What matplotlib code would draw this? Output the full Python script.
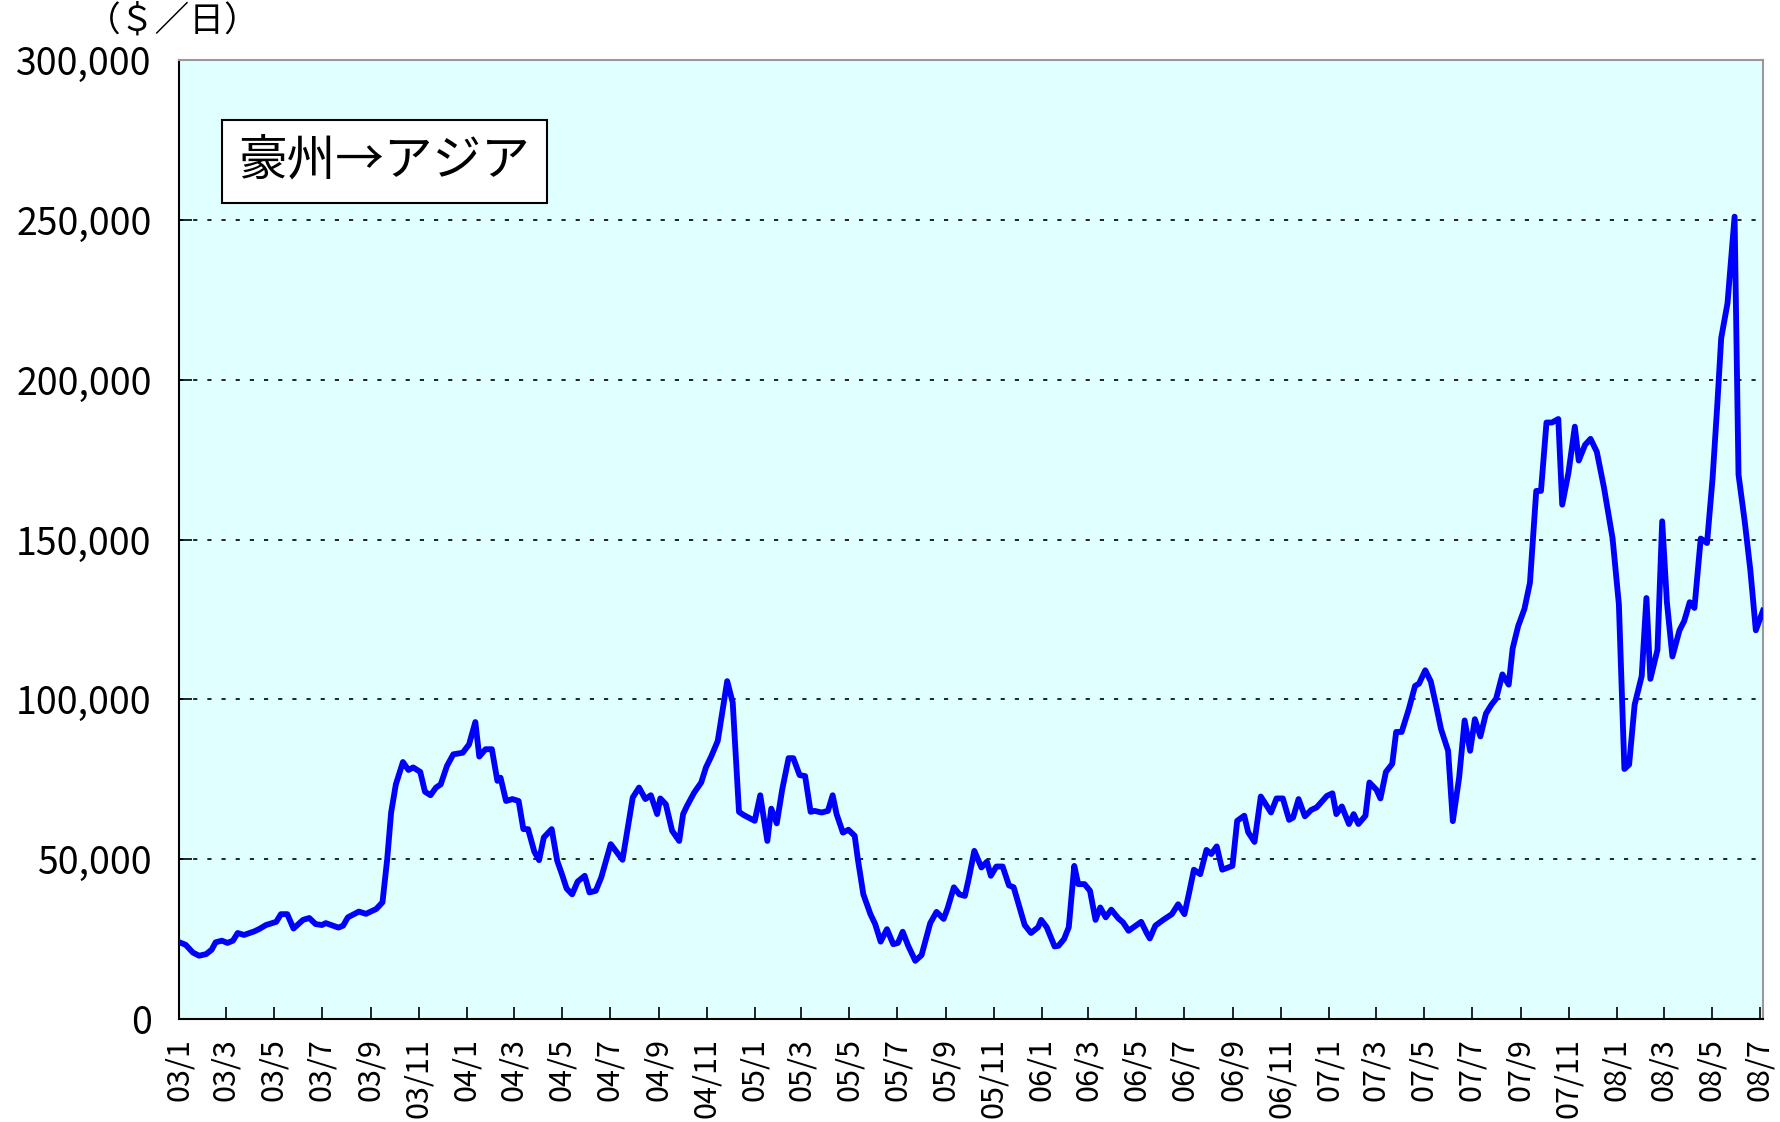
import numpy as np
import pandas as pd
import matplotlib
matplotlib.use("Agg")
import matplotlib.pyplot as plt
import matplotlib.dates as mdates
from matplotlib.ticker import FuncFormatter, MultipleLocator

plt.rcParams['font.family'] = ['Noto Sans CJK JP', 'DejaVu Sans']

# 週次の用船料（豪州→アジア）、2003/1/1 からの経過日数と千ドル/日
start = pd.Timestamp('2003-01-01')
days = [0, 8, 17, 25, 34, 41, 46, 54, 61, 68, 74, 82, 95, 101, 110, 123, 129, 137, 145, 157,
        165, 173, 181, 186, 202, 208, 214, 228, 237, 250, 258, 264, 269, 275, 284, 291, 297, 306, 312, 319,
        326, 332, 340, 348, 360, 368, 376, 381, 389, 397, 404, 408, 415, 423, 431, 437, 443, 451, 457, 463,
        473, 480, 486, 492, 499, 506, 515, 521, 529, 536, 548, 563, 570, 576, 584, 592, 599, 607, 611, 618,
        626, 635, 640, 645, 654, 663, 669, 676, 684, 696, 703, 711, 717, 731, 738, 747, 752, 759, 766, 774,
        780, 788, 795, 802, 807, 816, 824, 830, 835, 843, 850, 858, 862, 869, 878, 884, 891, 899, 907, 913,
        919, 926, 935, 943, 954, 962, 971, 976, 984, 991, 998, 1003, 1010, 1019, 1026, 1031, 1038, 1046, 1054, 1060,
        1074, 1082, 1091, 1095, 1102, 1112, 1117, 1124, 1130, 1137, 1142, 1150, 1157, 1164, 1170, 1177, 1184, 1193, 1199, 1206,
        1222, 1229, 1233, 1240, 1250, 1261, 1269, 1277, 1283, 1289, 1297, 1305, 1311, 1318, 1325, 1338, 1344, 1353, 1358, 1366,
        1374, 1387, 1394, 1402, 1410, 1415, 1422, 1430, 1438, 1445, 1458, 1465, 1470, 1477, 1486, 1492, 1498, 1507, 1512, 1521,
        1526, 1533, 1541, 1546, 1553, 1562, 1570, 1575, 1583, 1590, 1597, 1603, 1612, 1618, 1626, 1633, 1640, 1646, 1653, 1660,
        1667, 1673, 1681, 1689, 1694, 1701, 1709, 1716, 1724, 1730, 1737, 1744, 1752, 1757, 1765, 1773, 1778, 1786, 1793, 1801,
        1810, 1821, 1829, 1836, 1842, 1849, 1858, 1864, 1869, 1878, 1884, 1890, 1897, 1906, 1912, 1919, 1925, 1933, 1941, 1948,
        1954, 1959, 1967, 1976, 1981, 1989, 1996, 2003, 2012]
rates_k = [24.0, 23.2, 20.8, 19.8, 20.3, 21.7, 24.0, 24.5, 23.8, 24.5, 26.9, 26.3, 27.4, 28.1, 29.4, 30.4, 32.8, 32.8, 28.3, 31.0,
           31.6, 29.7, 29.4, 30.0, 28.6, 29.2, 31.8, 33.6, 32.9, 34.4, 36.5, 50.0, 64.6, 73.4, 80.4, 77.9, 78.7, 77.3, 71.1, 70.0,
           72.4, 73.4, 79.2, 82.8, 83.3, 85.9, 92.9, 82.1, 84.4, 84.4, 74.5, 75.5, 68.2, 68.8, 68.2, 59.4, 59.4, 52.3, 49.7, 56.8,
           59.4, 49.5, 45.3, 40.8, 39.0, 43.0, 44.8, 39.6, 40.1, 44.3, 54.7, 49.8, 60.4, 69.3, 72.4, 68.8, 70.0, 64.1, 69.0, 67.2,
           58.9, 55.7, 64.1, 66.7, 70.8, 74.0, 78.7, 82.3, 87.0, 105.7, 99.0, 64.8, 63.8, 62.0, 70.0, 55.7, 65.8, 61.2, 71.9, 81.6,
           81.6, 76.3, 76.0, 64.8, 65.1, 64.6, 65.1, 70.0, 64.1, 58.3, 59.2, 57.3, 50.0, 39.0, 32.8, 29.7, 24.2, 28.1, 23.4, 23.8,
           27.3, 22.9, 18.2, 20.0, 30.0, 33.5, 31.3, 34.6, 41.2, 39.0, 38.5, 44.0, 52.6, 47.4, 49.2, 44.8, 47.7, 47.7, 41.8, 41.2,
           29.4, 26.9, 28.7, 31.0, 28.7, 22.7, 22.9, 25.0, 28.7, 47.9, 42.2, 42.2, 40.1, 31.0, 34.9, 31.8, 34.2, 31.5, 30.2, 27.6,
           30.4, 26.9, 25.2, 29.2, 31.0, 32.8, 35.9, 32.8, 39.6, 46.7, 45.3, 52.9, 51.6, 54.0, 46.7, 47.9, 62.0, 63.6, 58.4, 55.4,
           69.6, 64.6, 69.0, 69.0, 62.3, 63.0, 68.8, 63.4, 65.4, 66.2, 69.8, 70.6, 64.1, 66.5, 61.0, 64.1, 61.0, 63.6, 74.0, 71.7,
           69.0, 77.3, 79.8, 89.8, 89.8, 96.9, 104.2, 104.9, 109.1, 105.6, 97.8, 90.7, 83.9, 61.9, 75.5, 93.4, 83.9, 93.8, 88.4, 95.5,
           98.3, 100.2, 107.8, 104.6, 115.9, 122.9, 128.3, 136.5, 165.2, 165.2, 186.6, 186.6, 187.7, 160.9, 171.0, 185.3, 174.7, 179.6, 181.5, 177.4,
           166.3, 150.3, 129.7, 78.2, 79.6, 98.3, 107.3, 131.7, 106.4, 115.5, 155.7, 130.4, 113.4, 121.6, 124.5, 130.4, 128.6, 150.3, 148.9, 169.0,
           192.0, 213.0, 223.9, 251.0, 170.3, 155.4, 140.5, 121.6, 127.7]

dates = start + pd.to_timedelta(days, unit='D')
rates = np.array(rates_k) * 1000

fig = plt.figure(figsize=(17.8, 11.22), dpi=100)
ax = fig.add_axes([0.1008, 0.0918, 0.8896, 0.8547])
ax.set_facecolor('#E0FFFF')

ax.plot(dates, rates, color='#0000FF', linewidth=4.2, solid_joinstyle='round', zorder=3)

ax.set_ylim(0, 300000)
ax.set_xlim(start, pd.Timestamp('2008-07-05'))
ax.yaxis.set_major_locator(MultipleLocator(50000))
ax.yaxis.set_major_formatter(FuncFormatter(lambda v, p: f"{int(v):,}"))
ax.grid(axis='y', color='black', linestyle=(0, (2.5, 6)), linewidth=1.2)

ax.xaxis.set_major_locator(mdates.MonthLocator(bymonth=[1, 3, 5, 7, 9, 11]))
ax.xaxis.set_major_formatter(FuncFormatter(
    lambda v, p: f"{mdates.num2date(v).year % 100:02d}/{mdates.num2date(v).month}"))

ax.tick_params(axis='y', direction='in', length=9, width=1.2, labelsize=27, pad=20)
ax.tick_params(axis='x', direction='in', length=9, width=1.2, labelsize=22, pad=14, labelrotation=90)

for s in ['left', 'bottom']:
    ax.spines[s].set_color('black')
    ax.spines[s].set_linewidth(1.5)
for s in ['top', 'right']:
    ax.spines[s].set_color('#999999')
    ax.spines[s].set_linewidth(1.5)

fig.text(0.097, 0.981, "（＄／日）", fontsize=25, ha='center', va='center')
fig.text(0.216, 0.856, "豪州→アジア", fontsize=35, ha='center', va='center',
         bbox=dict(boxstyle='square,pad=0.35', facecolor='white', edgecolor='black', linewidth=1.5))

fig.savefig("out.png", dpi=100)
